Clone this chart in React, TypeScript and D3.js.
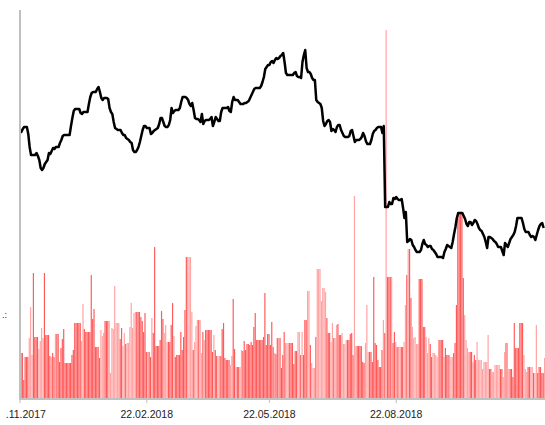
import React from 'react';
import * as d3 from 'd3';

const START_DATE = '2017-11-22';
const TICK_DATES = ['2017-11-22', '2018-02-22', '2018-05-22', '2018-08-22'];

// daily closing price
const PRICE: number[] = [
  366,366,369,371,371,371,364,351,343,343,
  343,343,345,342,338,330,328,330,334,336,
  338,345,344,347,350,349,351,351,351,355,
  358,362,363,363,363,363,363,372,380,387,
  389,389,389,389,385,384,386,386,386,386,
  394,401,405,406,406,406,409,411,406,400,
  398,400,400,400,399,390,386,384,376,370,
  369,368,368,368,365,363,363,360,359,358,
  356,355,348,346,346,348,351,356,362,368,
  372,372,370,370,370,364,365,367,368,369,
  370,374,380,380,376,372,371,371,373,378,
  390,385,387,388,388,388,390,396,401,401,
  401,400,398,394,392,395,388,380,379,379,
  378,376,384,374,377,378,378,378,379,381,
  372,376,381,379,377,377,386,390,390,390,
  390,391,387,386,396,401,398,398,398,396,
  394,394,394,395,395,396,397,400,403,406,
  409,410,410,410,410,412,416,421,429,431,
  433,433,436,437,435,438,440,439,440,442,
  443,445,436,425,423,423,423,423,423,425,
  426,422,421,421,420,436,443,448,430,426,
  426,424,420,418,418,398,396,395,394,390,
  377,372,374,377,378,376,367,369,368,366,
  371,373,373,368,365,362,361,361,361,362,
  367,368,362,356,358,358,358,359,361,365,
  362,357,354,354,354,358,364,367,368,370,
  371,371,371,365,372,291,291,291,296,294,
  294,300,299,301,299,298,298,299,290,280,
  286,256,257,259,258,253,251,248,246,246,
  246,248,254,258,254,253,251,252,252,249,
  248,246,244,241,241,241,241,240,246,249,
  253,252,251,250,256,264,271,280,285,285,
  285,285,282,279,274,272,276,276,273,275,
  278,277,274,270,268,267,264,261,256,250,
  261,261,260,259,257,256,254,251,251,251,
  247,243,255,253,251,255,259,261,263,266,
  272,280,280,280,280,275,269,266,266,266,
  263,261,262,261,258,263,268,272,274,275,
  270,
];

// daily volume
const VOLUME: number[] = [
  45,45,18,41,41,41,60,91,43,125,
  61,61,61,49,57,70,60,125,63,63,
  63,42,41,45,41,64,64,64,36,50,
  59,69,35,35,35,35,35,43,48,75,
  75,75,75,75,57,94,69,66,66,66,
  66,123,79,89,51,51,51,40,68,62,
  65,77,77,77,77,25,70,69,112,75,
  75,75,59,70,52,65,54,55,55,71,
  95,70,85,86,86,86,86,81,77,66,
  85,46,46,46,41,80,65,151,52,52,
  52,58,87,79,65,73,56,56,56,73,
  95,62,41,43,43,43,66,48,61,88,
  141,141,141,141,86,48,56,72,78,78,
  78,45,66,58,68,68,68,68,68,46,
  63,48,42,42,42,42,69,75,40,38,
  38,38,33,42,99,49,31,31,31,31,
  48,47,57,48,54,54,53,56,53,71,
  85,58,58,58,58,58,61,105,53,64,
  64,53,76,51,45,44,60,60,60,30,
  43,66,55,55,55,55,55,55,34,47,
  47,66,66,43,66,43,78,78,107,107,
  53,35,30,30,61,129,129,129,97,110,
  110,106,80,65,65,56,75,60,60,73,
  74,63,63,65,54,54,58,58,58,64,
  65,43,202,52,52,52,52,52,36,35,
  55,93,46,46,46,36,121,55,53,38,
  31,31,48,78,65,368,121,121,121,121,
  55,66,56,51,51,51,51,51,56,93,
  123,149,149,100,71,60,61,54,54,119,
  119,119,71,71,61,45,60,54,41,45,
  45,43,41,58,58,58,58,41,50,43,
  43,43,41,41,45,55,93,186,186,186,
  186,120,83,58,50,46,46,46,36,43,
  38,56,38,38,38,29,36,36,36,63,
  29,29,26,26,33,33,33,33,29,29,
  21,46,55,55,29,29,29,21,75,50,
  50,50,75,75,75,43,29,26,31,31,
  31,31,25,25,73,25,31,31,25,25,
  40,
];

const W = 545;
const H = 425;

export default function App() {
  const parse = d3.utcParse('%Y-%m-%d');
  const fmt = d3.utcFormat('%d.%m.%Y');
  const start = parse(START_DATE) as Date;
  const dates = PRICE.map((_, i) => d3.utcDay.offset(start, i));
  const end = d3.utcDay.offset(start, PRICE.length);

  const x = d3.scaleUtc().domain([start, end]).range([20, 545]);
  const yPrice = d3.scaleLinear().domain([100, 480]).range([398, 18]);
  const yVol = d3.scaleLinear().domain([0, 368]).range([398, 30]);
  const step = x(d3.utcDay.offset(start, 1)) - x(start);

  const line = d3
    .line<number>()
    .x((_, i) => x(dates[i]))
    .y((d) => yPrice(d));

  const ticks = TICK_DATES.map((s) => parse(s) as Date);

  return (
    <svg
      width={W}
      height={H}
      style={{ position: 'absolute', left: 0, top: 0, background: '#fff' }}
      fontFamily="'Liberation Sans', Arial, sans-serif"
    >
      <defs>
        <clipPath id="lblclip">
          <rect x={6} y={400} width={W} height={25} />
        </clipPath>
      </defs>
      <g>
        {VOLUME.map((v, i) => {
          const up = i === 0 ? true : PRICE[i] >= PRICE[i - 1];
          return (
            <rect
              key={i}
              x={x(dates[i]) + 0.4}
              y={yVol(v)}
              width={step * 0.85}
              height={yVol(0) - yVol(v)}
              fill={up ? '#ff5a5a' : '#ffa3a3'}
            />
          );
        })}
      </g>
      <path
        d={line(PRICE) || ''}
        fill="none"
        stroke="#000"
        strokeWidth={2.5}
        strokeLinejoin="round"
      />
      <line x1={20} x2={20} y1={10} y2={400} stroke="#c0c0c0" strokeWidth={2} />
      <line x1={20} x2={545} y1={399} y2={399} stroke="#c0c0c0" strokeWidth={2} />
      {ticks.map((t, i) => (
        <line key={i} x1={x(t)} x2={x(t)} y1={399} y2={403} stroke="#c0c0c0" strokeWidth={1} />
      ))}
      <g clipPath="url(#lblclip)">
        {ticks.map((t, i) => (
          <text
            key={i}
            x={x(t)}
            y={418}
            textAnchor="middle"
            fontSize={10.5}
            fill="#222"
          >
            {fmt(t)}
          </text>
        ))}
      </g>
      <text x={2} y={318} fontSize={9} fill="#222">.:</text>
    </svg>
  );
}
